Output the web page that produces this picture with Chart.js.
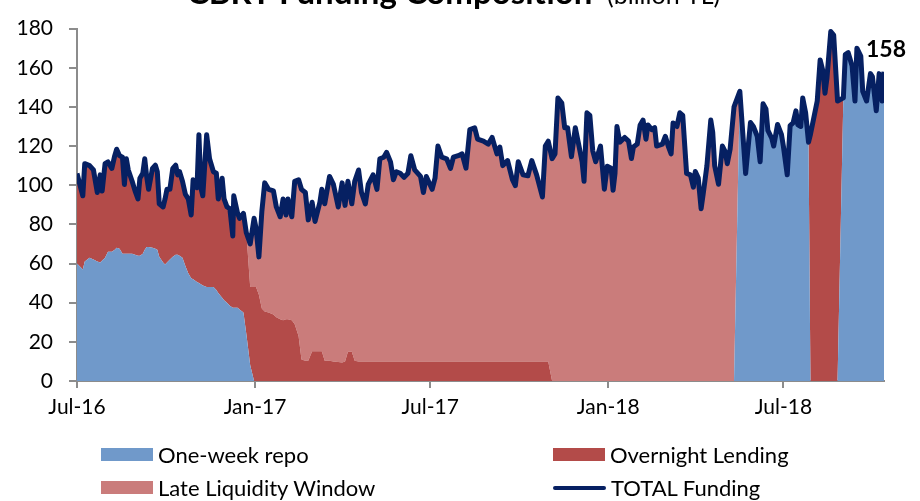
<!DOCTYPE html>
<html>
<head>
<meta charset="utf-8">
<script src="https://cdn.jsdelivr.net/npm/chart.js@4.4.1/dist/chart.umd.min.js"></script>
<style>
  html, body { margin: 0; padding: 0; background: #fff; }
  #wrap { position: relative; width: 920px; height: 501px; font-family: Lato, "Open Sans", sans-serif; }
  #chart { position: absolute; left: 0; top: 0; }
  .leg { position: absolute; display: flex; align-items: center; font-size: 22px; color: #000; white-space: nowrap; }
  .sw { width: 52px; height: 13px; margin-right: 5px; }
  .ln { width: 53px; height: 4px; margin-right: 5px; border-radius: 2px; }
</style>
</head>
<body>
<div id="wrap">
  <canvas id="chart" width="920" height="501"></canvas>
  <div class="leg" style="left:101px; top:441px;"><span class="sw" style="background:#7099ca"></span>One-week repo</div>
  <div class="leg" style="left:553px; top:441px;"><span class="sw" style="background:#b34b49"></span>Overnight Lending</div>
  <div class="leg" style="left:101px; top:474px;"><span class="sw" style="background:#ca7c7b"></span>Late Liquidity Window</div>
  <div class="leg" style="left:553px; top:474px;"><span class="ln" style="background:#062062"></span>TOTAL Funding</div>
</div>
<script>
// CBRT funding composition, billion TL
// x = days since 1 Jul 2016
const days = [
    // Jul-16 .. end Dec-16
    0,6,8,13,17,21,24,26,29,32, 36,39,41,44,47,49,51,53,57,60,
    63,65,68,70,72,74,78,81,83,85, 89,91,93,96,99,102,104,106,109,112,
    115,118,120,124,126,128,130,134,137,141, 144,146,150,152,155,158,161,162,166,168,
    172,175,
    // turn of year
    179,183,185,188,191,194,198,203,206,210, 213,216,218,222,225,229,232,236,239,243,
    246,251,253,256,261,265,270,274,277,280, 284,287,
    // overnight flat at ~10
    291,294,298,301,306,310,313,317,320,324, 327,330,334,338,342,345,349,355,358,361,
    367,370,373,377,382,386,389,394,398,402, 406,411,414,420,425,429,434,437,440,445,
    450,453,456,461,466,470,475,481,484,487,
    // late liquidity window only
    491,494,497,501,504,507,511,515,518,522, 524,527,530,533,536,541,545,548,552,554,
    556,558,561,566,570,573,575,579,582,585, 588,590,594,597,599,605,608,611,614,616,
    620,623,626,630,634,637,639,642,645,647, 651,655,657,659,663,667,670,672,675,679,
    // one-week repo only
    685,688,691,696,699,703,706,709,712,714, 718,720,724,728,730,734,737,740,743,745,
    748,750,753,756,
    // overnight only
    758,761,765,768,771,773,775,779,782,786,
    // one-week repo again
    792,794,797,801,804,806,810,812,816,820, 822,826,829,832,834
];

const totalFunding = [
    106,94.6,111,110,107.8,96.3,105.3,97,111,111.9, 108.6,115.1,118.4,115.1,114.3,100.4,113.5,107.8,102,97.1,
    93,103.6,106.1,113.5,104.5,97.9,108.6,110.2,106.9,90.5, 88.9,93,97.9,97.9,108.6,110.2,105.3,106.9,102,95.4,
    93,84.8,102.8,98.7,125.8,98.7,94.6,125.8,113.5,106.9, 106.1,93,103.6,93,88.9,88,74.1,94.6,85.6,83.1,
    85.6,75.7,
    70,83.1,78.2,63.4,86.4,101.2,97.9,97.1,88.9,83.9, 93,84.8,93,83.9,102,102.8,97.9,96.3,82.3,91.3,
    81.5,91.3,97.9,90.5,104.5,100.4,88.9,101.2,89.7,102, 90.5,102,
    107.8,96.3,90.5,100.4,105.3,97.9,113.5,114.3,116.8,111.9, 102.8,106.9,106.1,104,106.1,115.1,107.8,104.5,96.3,104.5,
    97.9,103.6,120,114.3,113.5,108.6,114.3,115.1,116,108.7, 128.4,129.3,123.5,122.5,121,124.4,116,119.5,110,112.6,
    102.8,99.8,112,105.3,104.8,112.6,105.3,94,120,122.5,
    113.6,116,144.6,142,129.4,129.4,114.6,129.4,122,112, 102,137,135.7,117.6,112,120,98,109.7,108.7,97.4,
    106,130,122,124.4,122.5,113.6,119.5,121,130.8,133.3, 123.5,130.8,128.4,129.4,120,121,125,120,116,131.8,
    130,137,135.7,106,105.3,99,107,103.8,88,95, 110,133.3,127,110,100.5,120,117,111,118.5,140,
    148,127,106,132,130,125,112,141.6,139,128, 124,120,131,126,120,105.3,130.5,131.8,138,130.8,
    130,144.6,137,122,
    126,133.3,143,164,158,147,154.5,178.5,176.7,143,
    144.6,166.7,167.7,161,143,170,166,148,143,157, 155.5,138,157,143,158
];

const oneWeekRepo = [
    60,57,61,63,62,61,60.5,61.5,63,66, 66,67,68,67.5,65,65,65,65,65,64.5,
    64,64,65,67,68.5,68.5,68,67.5,67,63.5, 60.5,59.5,60.5,62,63.5,64.5,64.5,64,63,58.7,
    55,52.5,52,50.6,50,49.4,48.8,48,48,48, 46.5,45,42.5,41.3,40,38.4,37.4,37.4,37.4,36.5,
    35,24,
    8,0,0,0,0,0,0,0,0,0, 0,0,0,0,0,0,0,0,0,0,
    0,0,0,0,0,0,0,0,0,0, 0,0,
    0,0,0,0,0,0,0,0,0,0, 0,0,0,0,0,0,0,0,0,0,
    0,0,0,0,0,0,0,0,0,0, 0,0,0,0,0,0,0,0,0,0,
    0,0,0,0,0,0,0,0,0,0,
    0,0,0,0,0,0,0,0,0,0, 0,0,0,0,0,0,0,0,0,0,
    0,0,0,0,0,0,0,0,0,0, 0,0,0,0,0,0,0,0,0,0,
    0,0,0,0,0,0,0,0,0,0, 0,0,0,0,0,0,0,0,0,0,
    148,127,106,132,130,125,112,141.6,139,128, 124,120,131,126,120,105.3,130.5,131.8,138,130.8,
    130,144.6,137,122,
    0,0,0,0,0,0,0,0,0,0,
    144.6,166.7,167.7,161,143,170,166,148,143,157, 155.5,138,157,143,158
];

const overnightLending = [
    46,37.6,50,47,45.8,35.3,44.8,35.5,48,45.9, 42.6,48.1,50.4,47.6,49.3,35.4,48.5,42.8,37,32.6,
    29,39.6,41.1,46.5,36,29.4,40.6,42.7,39.9,27, 28.4,33.5,37.4,35.9,45.1,45.7,40.8,42.9,39,36.7,
    38,32.3,50.8,48.1,75.8,49.3,45.8,77.8,65.5,58.9, 59.6,48,61.1,51.7,48.9,49.6,36.7,57.2,48.2,46.6,
    50.6,51.7,
    40,48,48,44,37,35.5,35,34,32.5,31.5, 31,31.5,31.5,31,29,23,11,10.3,10.3,15.2,
    15.2,15.2,15.2,10.3,10.3,10,9.7,9.5,10,15, 15,10.3,
    10,10,10,10,10,10,10,10,10,10, 10,10,10,10,10,10,10,10,10,10,
    10,10,10,10,10,10,10,10,10,10, 10,10,10,10,10,10,10,10,10,10,
    10,10,10,10,10,10,10,10,10,10,
    0,0,0,0,0,0,0,0,0,0, 0,0,0,0,0,0,0,0,0,0,
    0,0,0,0,0,0,0,0,0,0, 0,0,0,0,0,0,0,0,0,0,
    0,0,0,0,0,0,0,0,0,0, 0,0,0,0,0,0,0,0,0,0,
    0,0,0,0,0,0,0,0,0,0, 0,0,0,0,0,0,0,0,0,0,
    0,0,0,0,
    126,133.3,143,164,158,147,154.5,178.5,176.7,143,
    0,0,0,0,0,0,0,0,0,0, 0,0,0,0,0
];

const lateLiquidityWindow = [
    0,0,0,0,0,0,0,0,0,0, 0,0,0,0,0,0,0,0,0,0,
    0,0,0,0,0,0,0,0,0,0, 0,0,0,0,0,0,0,0,0,0,
    0,0,0,0,0,0,0,0,0,0, 0,0,0,0,0,0,0,0,0,0,
    0,0,
    22,35.1,30.2,19.4,49.4,65.7,62.9,63.1,56.4,52.4, 62,53.3,61.5,52.9,73,79.8,86.9,86,72,76.1,
    66.3,76.1,82.7,80.2,94.2,90.4,79.2,91.7,79.7,87, 75.5,91.7,
    97.8,86.3,80.5,90.4,95.3,87.9,103.5,104.3,106.8,101.9, 92.8,96.9,96.1,94,96.1,105.1,97.8,94.5,86.3,94.5,
    87.9,93.6,110,104.3,103.5,98.6,104.3,105.1,106,98.7, 118.4,119.3,113.5,112.5,111,114.4,106,109.5,100,102.6,
    92.8,89.8,102,95.3,94.8,102.6,95.3,84,110,112.5,
    113.6,116,144.6,142,129.4,129.4,114.6,129.4,122,112, 102,137,135.7,117.6,112,120,98,109.7,108.7,97.4,
    106,130,122,124.4,122.5,113.6,119.5,121,130.8,133.3, 123.5,130.8,128.4,129.4,120,121,125,120,116,131.8,
    130,137,135.7,106,105.3,99,107,103.8,88,95, 110,133.3,127,110,100.5,120,117,111,118.5,140,
    0,0,0,0,0,0,0,0,0,0, 0,0,0,0,0,0,0,0,0,0,
    0,0,0,0,
    0,0,0,0,0,0,0,0,0,0,
    0,0,0,0,0,0,0,0,0,0, 0,0,0,0,0
];

const tickDays = [0, 184, 365, 549, 730];
const tickLabels = ['Jul-16', 'Jan-17', 'Jul-17', 'Jan-18', 'Jul-18'];
const yTicks = [0, 20, 40, 60, 80, 100, 120, 140, 160, 180];

const FONT = 'Lato, "Open Sans", sans-serif';
const AXIS_GREY = '#8c8c8c';

function pts(values) {
    return days.map((d, i) => ({ x: d, y: values[i] }));
}

// clipped title at the very top + value label at the end of the line
const annotations = {
    id: 'annotations',
    afterDraw(chart) {
        const c = chart.ctx;
        c.save();
        c.fillStyle = '#000';
        c.textBaseline = 'alphabetic';
        c.textAlign = 'left';
        c.font = 'bold 33px ' + FONT;
        c.fillText('CBRT Funding Composition', 187, 4);
        c.font = '25px ' + FONT;
        c.fillText('(billion TL)', 607, 4);

        const xs = chart.scales.x, ys = chart.scales.y;
        const last = days.length - 1;
        const px = xs.getPixelForValue(days[last]);
        const py = ys.getPixelForValue(totalFunding[last]);
        c.font = 'bold 23px ' + FONT;
        c.textAlign = 'center';
        c.fillText(String(Math.round(totalFunding[last])), px + 2, py - 15);
        c.restore();
    }
};

new Chart(document.getElementById('chart'), {
    type: 'line',
    data: {
        datasets: [
            {
                label: 'TOTAL Funding', data: pts(totalFunding), stack: 'total',
                borderColor: '#062062', borderWidth: 5, borderJoinStyle: 'round',
                fill: false, pointRadius: 0, tension: 0
            },
            {
                label: 'One-week repo', data: pts(oneWeekRepo), stack: 'parts',
                backgroundColor: '#7099ca', borderColor: 'rgba(0,0,0,0)', borderWidth: 0,
                fill: 'origin', pointRadius: 0, tension: 0
            },
            {
                label: 'Overnight Lending', data: pts(overnightLending), stack: 'parts',
                backgroundColor: '#b34b49', borderColor: 'rgba(0,0,0,0)', borderWidth: 0,
                fill: '-1', pointRadius: 0, tension: 0
            },
            {
                label: 'Late Liquidity Window', data: pts(lateLiquidityWindow), stack: 'parts',
                backgroundColor: '#ca7c7b', borderColor: 'rgba(0,0,0,0)', borderWidth: 0,
                fill: '-1', pointRadius: 0, tension: 0
            }
        ]
    },
    options: {
        responsive: false,
        animation: false,
        devicePixelRatio: 1,
        layout: { padding: { left: 0, right: 36, top: 15, bottom: 0 } },
        plugins: {
            legend: { display: false },
            tooltip: { enabled: false }
        },
        scales: {
            x: {
                type: 'linear', min: 0, max: days[days.length - 1],
                afterBuildTicks: s => { s.ticks = tickDays.map(v => ({ value: v })); },
                afterFit: s => { s.height = 120; },
                ticks: {
                    autoSkip: false, maxRotation: 0, padding: 7, color: '#000',
                    font: { family: FONT, size: 21 },
                    callback: v => tickLabels[tickDays.indexOf(v)]
                },
                grid: { drawOnChartArea: false, drawTicks: true, tickLength: 7, color: AXIS_GREY, lineWidth: 2 },
                border: { color: AXIS_GREY, width: 2 }
            },
            y: {
                stacked: true, min: 0, max: 180,
                afterBuildTicks: s => { s.ticks = yTicks.map(v => ({ value: v })); },
                afterFit: s => { s.width = 77; },
                ticks: { padding: 16, color: '#000', font: { family: FONT, size: 21 } },
                grid: { drawOnChartArea: false, drawTicks: true, tickLength: 8, color: AXIS_GREY, lineWidth: 2 },
                border: { color: AXIS_GREY, width: 2 }
            }
        }
    },
    plugins: [annotations]
});
</script>
</body>
</html>
